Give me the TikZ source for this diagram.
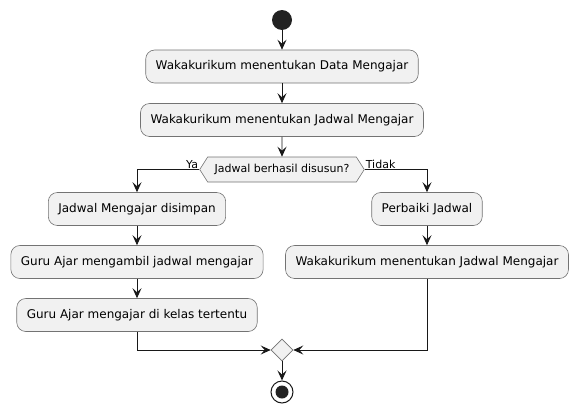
\documentclass[tikz,border=0pt]{standalone}
\usepackage{fontspec}
\setmainfont{DejaVu Sans}
\usepackage{xcolor}
\usetikzlibrary{shapes.geometric, shapes.symbols, arrows.meta, positioning}
\definecolor{boxfill}{HTML}{F1F1F1}
\definecolor{linecol}{HTML}{181818}
\definecolor{dotcol}{HTML}{222222}
\tikzstyle{arrow}     = [draw=linecol, line width=0.9pt, -{Stealth[length=10pt, width=9pt, inset=4pt]}]
\tikzstyle{block}     = [rectangle, draw=black!55, line width=0.6pt, fill=boxfill, rounded corners=9pt, minimum height=33pt, inner xsep=10pt]
\tikzstyle{startdot}  = [circle, fill=dotcol, inner sep=0pt, minimum size=20pt]
\tikzstyle{branch}    = [signal, signal to=west and east, signal pointer angle=115, draw=black!55, line width=0.6pt, fill=boxfill, minimum height=25pt, inner xsep=7pt, font=\fontsize{11}{13}\selectfont]
\tikzstyle{mergebox}  = [diamond, draw=black!55, line width=0.6pt, fill=boxfill, inner sep=0pt, minimum size=22pt]
\tikzstyle{guard}     = [inner sep=1pt, font=\fontsize{11}{13}\selectfont]
\tikzset{every node/.style={align=center, font=\fontsize{12}{14}\selectfont}}

\begin{document}
\begin{tikzpicture}[x=1pt, y=-1pt]
    \useasboundingbox (0, 0) rectangle (578, 415);

    \node (start)    at (282, 20)    [startdot] {};
    \node (data)     at (282, 66.5)  [block] {Wakakurikum menentukan Data Mengajar};
    \node (jadwal)   at (282, 120)   [block] {Wakakurikum menentukan Jadwal Mengajar};
    \node (dec)      at (282, 169.5) [branch] {Jadwal berhasil disusun?};
    \node (ya)       at (dec.west)   [guard, anchor=south east] {Ya};
    \node (tidak)    at (dec.east)   [guard, anchor=south west] {Tidak};

    % cabang Ya
    \node (simpan)   at (137, 209)   [block] {Jadwal Mengajar disimpan};
    \node (ambil)    at (137, 262)   [block] {Guru Ajar mengambil jadwal mengajar};
    \node (ajar)     at (137, 315)   [block] {Guru Ajar mengajar di kelas tertentu};

    % cabang Tidak
    \node (perbaiki) at (427, 209)   [block] {Perbaiki Jadwal};
    \node (ulang)    at (427, 262)   [block] {Wakakurikum menentukan Jadwal Mengajar};

    \node (merge)    at (282, 350)   [mergebox] {};
    \node (stop)     at (282, 392)   [circle, draw=linecol, line width=1pt, fill=white, inner sep=0pt, minimum size=22pt] {};
    \node (stopdot)  at (stop)       [startdot, minimum size=13pt] {};

    \draw [arrow] (start)    -- (data);
    \draw [arrow] (data)     -- (jadwal);
    \draw [arrow] (jadwal)   -- (dec);
    \draw [arrow] (dec.west) -| (simpan);
    \draw [arrow] (dec.east) -| (perbaiki);
    \draw [arrow] (simpan)   -- (ambil);
    \draw [arrow] (ambil)    -- (ajar);
    \draw [arrow] (perbaiki) -- (ulang);
    \draw [arrow] (ajar)     |- (merge);
    \draw [arrow] (ulang)    |- (merge);
    \draw [arrow] (merge)    -- (stop);
\end{tikzpicture}
\end{document}
